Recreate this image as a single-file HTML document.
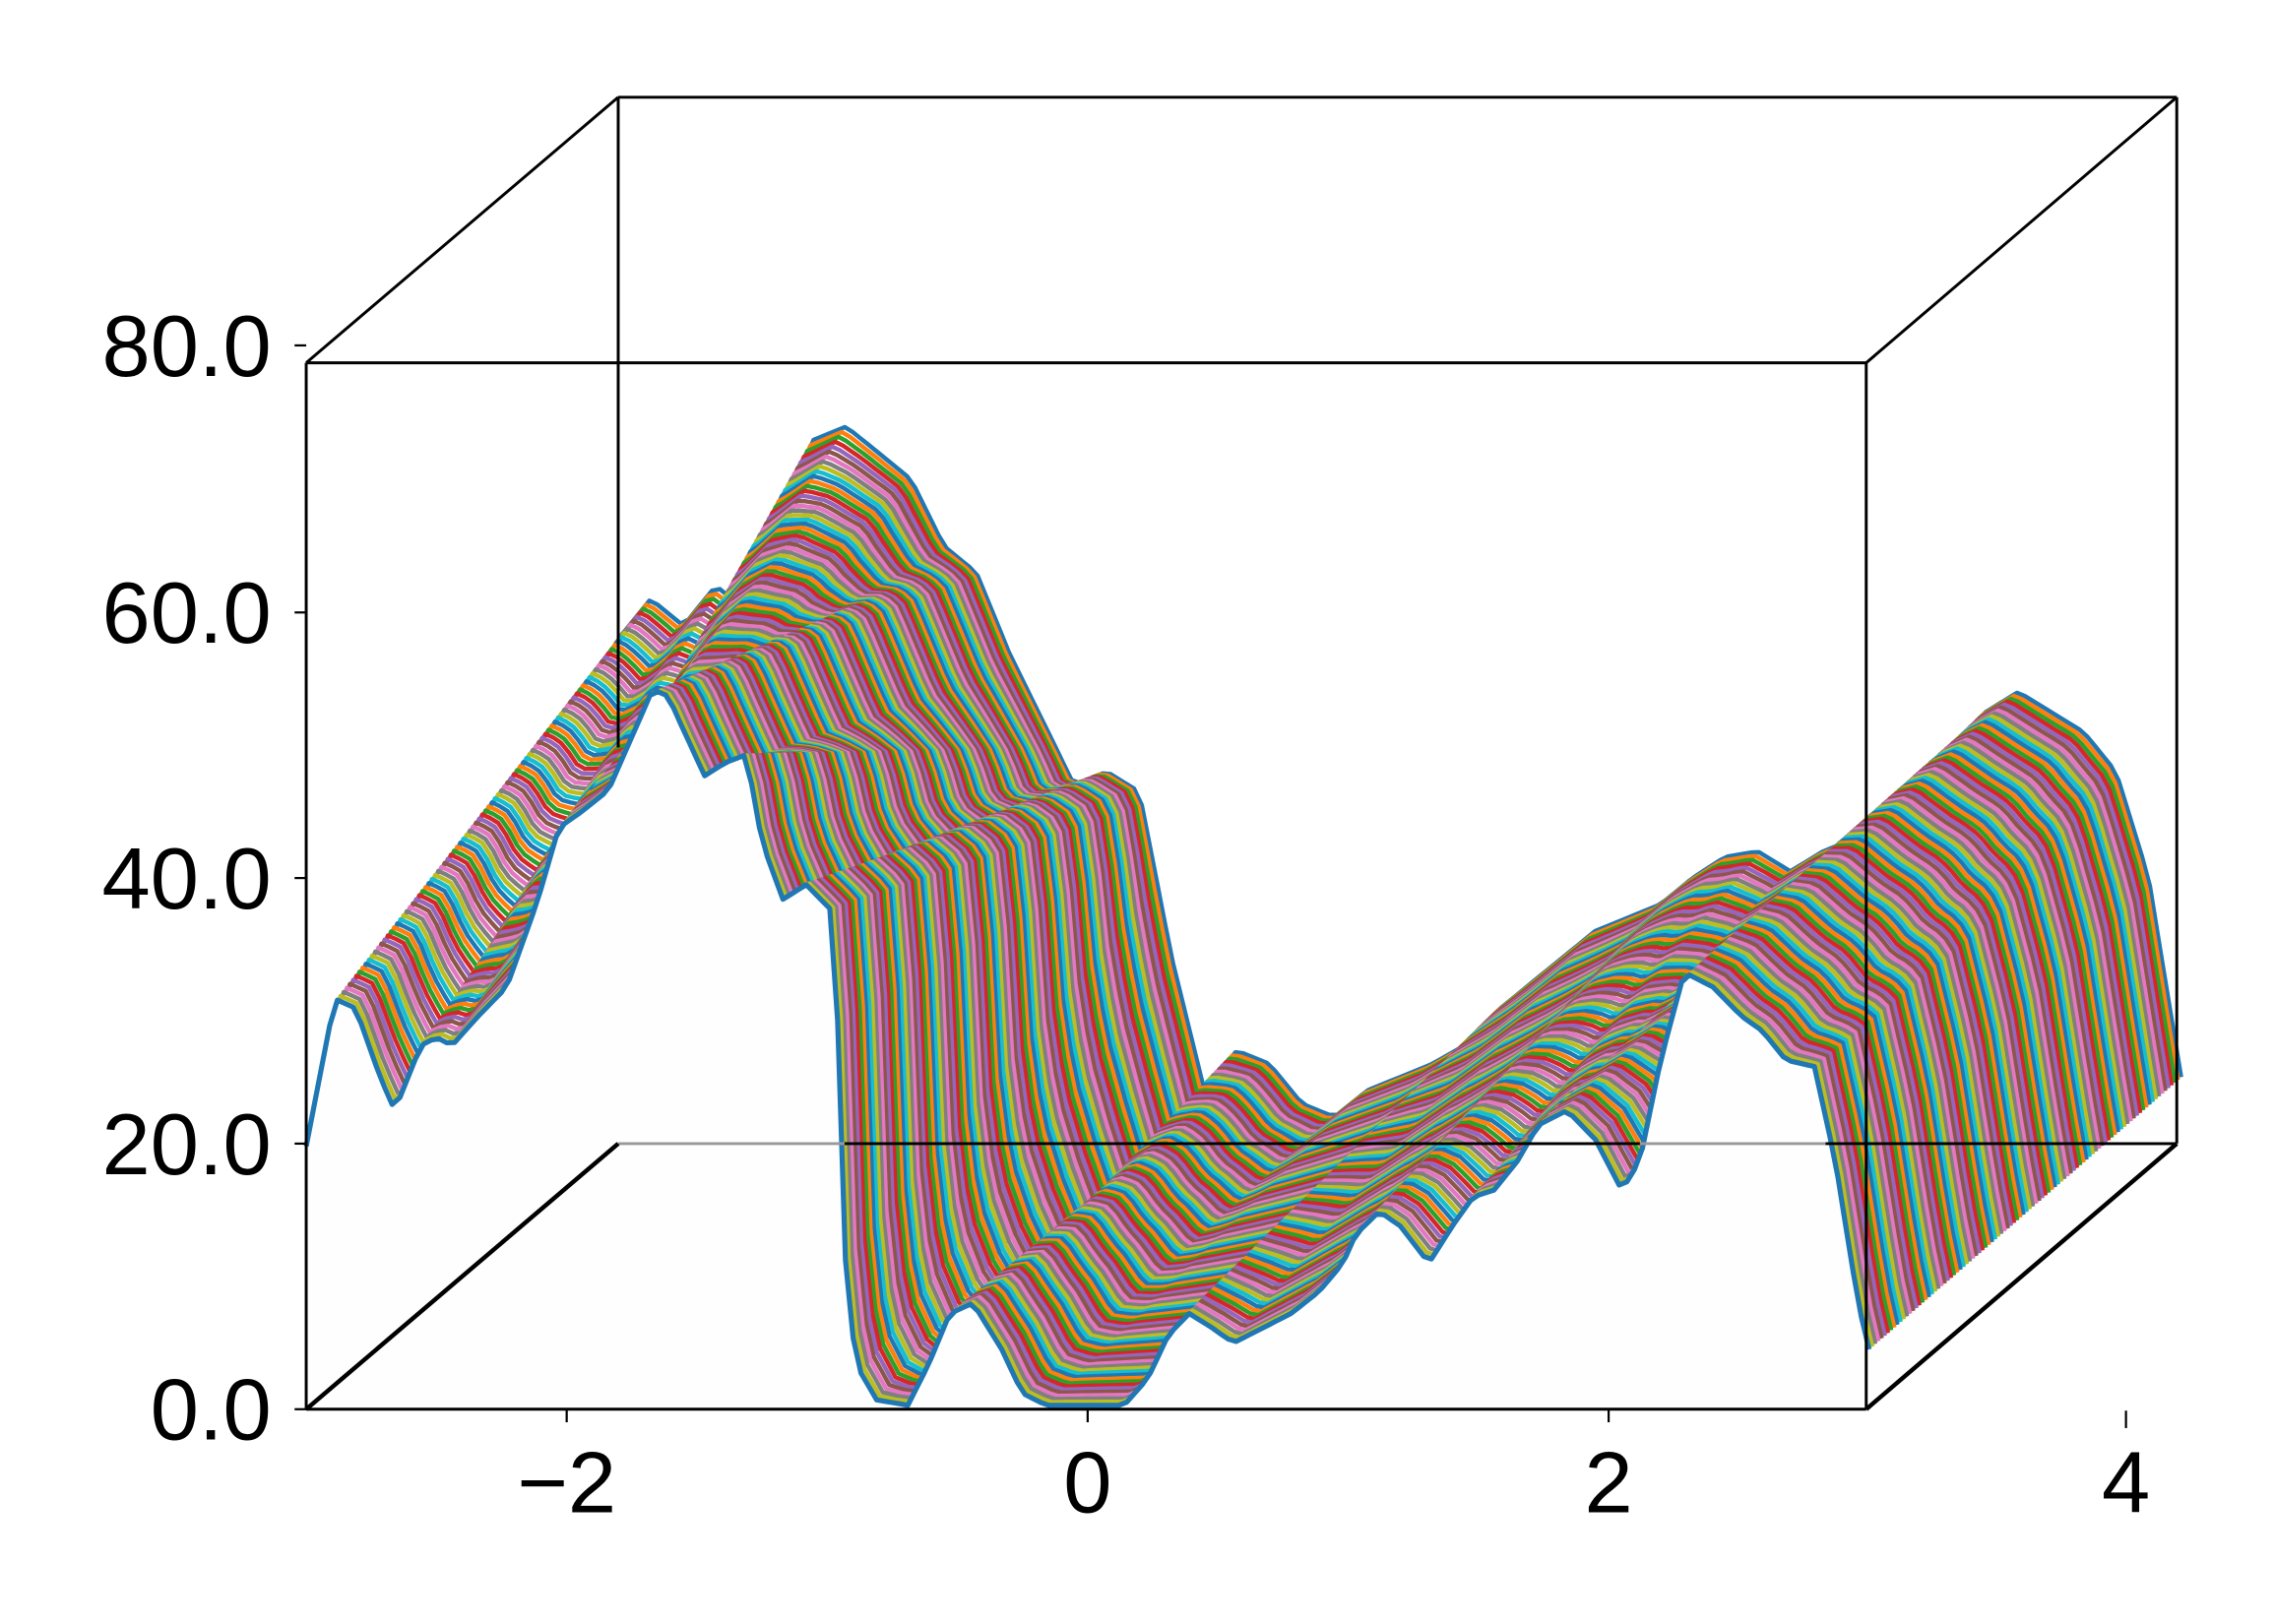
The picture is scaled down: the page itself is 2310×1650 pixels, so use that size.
<!DOCTYPE html>
<html><head><meta charset="utf-8"><style>
html,body{margin:0;padding:0;background:#fff}
svg{display:block}
text{font-family:"Liberation Sans",Arial,sans-serif;fill:#000}
</style></head>
<body>
<svg id="chart" width="2310" height="1650" viewBox="0 0 1567 1119" preserveAspectRatio="none" xmlns="http://www.w3.org/2000/svg">
<g id="series"></g>
<g id="axes"></g>
</svg>
<script>
// ---- data ----
const frontX = [-3,-2.89,-2.81,-2.72,-2.66,-2.56,-2.5,-2.44,-2.34,-2.23,-2.11,-2.03,-1.95,-1.84,-1.78,-1.67,-1.61,-1.56,-1.47,-1.39,-1.31,-1.25,-1.17,-1.08,-0.97,-0.94,-0.89,-0.81,-0.69,-0.61,-0.53,-0.44,-0.33,-0.25,-0.16,0.14,0.23,0.31,0.39,0.48,0.56,0.67,0.78,0.89,0.98,1.03,1.12,1.2,1.31,1.4,1.48,1.56,1.65,1.73,1.84,1.95,2.05,2.12,2.2,2.29,2.4,2.51,2.59,2.68,2.79,2.87,2.96,3.0];
const frontV = [19.8,30.9,30.2,25.2,22.5,27.4,28,27.4,29.6,31.8,38.4,43.8,44.9,46.6,49.3,54.2,53.7,51.5,47.7,48.7,49.3,42.7,38.4,39.5,37.3,13.2,3.4,0.7,0.3,3.4,7.2,8,4.5,1.2,0.3,0.3,2.3,5.6,7.2,6.1,5,6.1,7.2,8.9,11,13.2,14.9,13.8,11,13.8,16,16.5,18.7,21.4,22.5,20.3,16.5,18.7,26.3,32.9,31.8,29.6,28.5,26.3,25.8,18.7,7.8,4.5];
const backX = [-3,-2.875,-2.75,-2.625,-2.5,-2.375,-2.25,-2.125,-2,-1.875,-1.75,-1.625,-1.5,-1.375,-1.25,-1.125,-1,-0.875,-0.75,-0.625,-0.5,-0.375,-0.25,-0.125,0,0.125,0.25,0.375,0.5,0.625,0.75,0.875,1,1.125,1.25,1.375,1.5,1.625,1.75,1.875,2,2.125,2.25,2.375,2.5,2.625,2.75,2.875,3];
const backV = [38,41,39,42,40,47,53,54,52,50,45,43,37,32,27,28,26.5,14,4,7,6,3,2,4,5,6,7.4,10,12,14,16,17,18,20,21.6,22,20.5,22,23,25,27,30,32.5,34,32.5,31,28,20,5];
const yTicks = [0,20,40,60,80];
const yTickLabels = ["0.0","20.0","40.0","60.0","80.0"];
const xTicks = [-2,0,2];
const xTickLabels = ["\u22122","0","2"];
const seriesCount = 100;
const colors = ["#1f77b4","#ff7f0e","#2ca02c","#d62728","#9467bd","#8c564b","#e377c2","#7f7f7f","#bcbd22","#17becf"];

// ---- axes functions ----
const X = x => 211 + (x + 3) * 179.5;
const Y = v => 971 - v * 9.15;
const DX = 215, DY = -183;
function interp(xs, vs, x){
  if (x <= xs[0]) return vs[0];
  for (let i=1;i<xs.length;i++){ if (x <= xs[i]) { const f=(x-xs[i-1])/(xs[i]-xs[i-1]); return vs[i-1]+f*(vs[i]-vs[i-1]); } }
  return vs[vs.length-1];
}
const NS = "http://www.w3.org/2000/svg";
const sg = document.getElementById('series');
const grid = [];
for (let x=-3; x<=3.0001; x+=0.03) grid.push(x);
for (let k = seriesCount-1; k >= 0; k--) {
  const t = k/(seriesCount-1);
  const pts = grid.map(x => {
    const v = interp(frontX,frontV,x)*(1-t) + interp(backX,backV,x)*t;
    return [X(x)+DX*t, Y(v)+DY*t];
  });
  const line = pts.map(p=>p[0].toFixed(1)+','+p[1].toFixed(1)).join(' ');
  const poly = document.createElementNS(NS,'polygon');
  poly.setAttribute('points', line + ' ' + (X(3)+DX*t).toFixed(1)+','+(Y(0)+DY*t).toFixed(1)+' '+(X(-3)+DX*t).toFixed(1)+','+(Y(0)+DY*t).toFixed(1));
  poly.setAttribute('fill','#fefefe');
  
  
  sg.appendChild(poly);
  const pl = document.createElementNS(NS,'polyline');
  pl.setAttribute('points', line);
  pl.setAttribute('fill','none');
  pl.setAttribute('stroke', colors[(seriesCount-1-k)%10]);
  pl.setAttribute('stroke-width', k===0 ? 3.5 : 3);
  pl.setAttribute('stroke-linejoin','round');
  
  
  if (k===0) pl.setAttribute('stroke','#1f77b4');
  sg.appendChild(pl);
}
// ---- axes ----
const ag = document.getElementById('axes');
function ln(x1,y1,x2,y2,w,c,name){
  const l=document.createElementNS(NS,'line');
  l.setAttribute('x1',x1);l.setAttribute('y1',y1);l.setAttribute('x2',x2);l.setAttribute('y2',y2);
  l.setAttribute('stroke',c||'#000');l.setAttribute('stroke-width',w||1.5);
  
  
  ag.appendChild(l);
}
ln(426,67,1500,67,2,'#000','back-top-edge');
ln(1500,67,1500,788,2,'#000','back-right-edge');
ln(426,67,426,515,2,'#000','back-left-edge');
ln(211,250,426,67,2,'#000','top-left-edge');
ln(1286,250,1500,67,2,'#000','top-right-edge');
ln(426,788,1500,788,2,'#999','back-floor-edge');
ln(582,788,1130,788,2,'#000','floor-segment');
ln(1258,788,1500,788,2,'#000','floor-segment');
ln(211,971,426,788,3,'#000','bottom-left-edge');
ln(1286,971,1500,788,3,'#000','bottom-right-edge');
ln(211,250,1286,250,2,'#000','front-top-edge');
ln(211,250,211,971,2,'#000','front-left-edge');
ln(1286,250,1286,971,2,'#000','front-right-edge');
ln(211,971,1286,971,2,'#000','front-bottom-edge');
yTicks.forEach((v,i)=>{
  const y = (v===80)?238:Y(v);
  ln(203,y,211,y,1.5,'#000','y-tick');
  const tx=document.createElementNS(NS,'text');
  tx.setAttribute('x',187);tx.setAttribute('y',y+21);tx.setAttribute('text-anchor','end');tx.setAttribute('font-size',60);
  tx.textContent=yTickLabels[i];
  
  
  ag.appendChild(tx);
});
xTicks.forEach((v,i)=>{
  ln(X(v),971,X(v),980,1.5,'#000','x-tick');
  const tx=document.createElementNS(NS,'text');
  tx.setAttribute('x',X(v));tx.setAttribute('y',1042);tx.setAttribute('text-anchor','middle');tx.setAttribute('font-size',60);
  tx.textContent=xTickLabels[i];
  
  
  ag.appendChild(tx);
});
ln(1465,972,1465,984,1.5,'#000','depth-tick');
const t4=document.createElementNS(NS,'text');
t4.setAttribute('x',1465);t4.setAttribute('y',1042);t4.setAttribute('text-anchor','middle');t4.setAttribute('font-size',60);
t4.textContent='4';


ag.appendChild(t4);
</script>
</body></html>
